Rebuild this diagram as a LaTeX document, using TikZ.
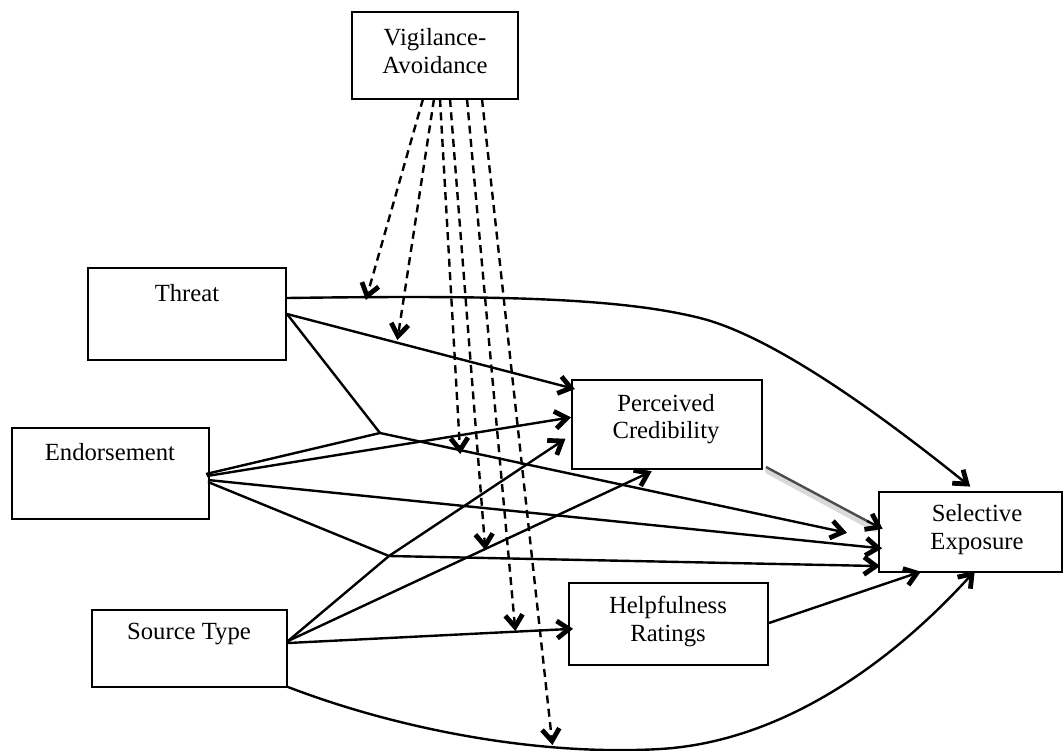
\documentclass[tikz,border=0pt]{standalone}
\usepackage{fontspec}
\setmainfont{Liberation Serif}
\usetikzlibrary{arrows.meta,decorations.markings}
\begin{document}
\begin{tikzpicture}[x=0.75pt,y=-0.75pt,
  box/.style={draw, line width=1.4pt, inner sep=0pt},
  lbl/.style={font=\fontsize{18.5}{20.5}\selectfont, align=center, inner sep=0pt},
  con/.style={line width=1.8pt},
  chev/.style={postaction={decorate, decoration={markings, mark=at position 1 with {\draw[solid, line width=3.6pt, line join=miter, line cap=butt] (-9pt,-6.5pt) -- (0pt,0pt) -- (-9pt,6.5pt);}}}},
  arr/.style={con, chev},
  darr/.style={line width=1.8pt, dash pattern=on 6pt off 4pt, chev}]
\useasboundingbox (0,0) rectangle (1064,750);
% boxes
\node[box, minimum width=124.5pt, minimum height=65.25pt] (V) at (435,55.5) {};
\node[box, minimum width=148.5pt, minimum height=69pt] (T) at (187,314) {};
\node[box, minimum width=147.75pt, minimum height=68.25pt] (E) at (110.5,473.5) {};
\node[box, minimum width=146.25pt, minimum height=57.75pt] (S) at (189.5,648.5) {};
\node[box, minimum width=142.5pt, minimum height=66.75pt] (PC) at (667,424.5) {};
\node[box, minimum width=149.25pt, minimum height=61.5pt] (H) at (668.5,624) {};
\node[box, minimum width=137.25pt, minimum height=60pt] (SE) at (970.5,532) {};
% labels
\node[lbl] (Vt) at (435,51) {Vigilance-\\Avoidance};
\node[lbl] (Tt) at (187,293) {Threat};
\node[lbl] (Et) at (110,452) {Endorsement};
\node[lbl] (St) at (189,634) {Source Type};
\node[lbl] (PCt) at (666,419) {Perceived\\Credibility};
\node[lbl] (Ht) at (668,621.5) {Helpfulness\\Ratings};
\node[lbl] (SEt) at (977,529.5) {Selective\\Exposure};
% connection points
\coordinate (t1) at (287,298);
\coordinate (t2) at (287,314);
\coordinate (e1) at (206,474);
\coordinate (e2) at (207,476);
\coordinate (e3) at (208,480);
\coordinate (e4) at (208,482);
\coordinate (s1) at (288,641);
\coordinate (s2) at (288,643);
\coordinate (s3) at (288,687);
\coordinate (I1) at (380,433);
\coordinate (I2) at (389,556);
\coordinate (pcT) at (571,388);
\coordinate (pcE) at (567,418);
\coordinate (pcI) at (562,441);
\coordinate (pcS) at (648,473);
\coordinate (pcO) at (766,467);
\coordinate (hS) at (569,629);
\coordinate (hO) at (769,623);
\coordinate (seT) at (967,484);
\coordinate (seI1) at (843,532);
\coordinate (sePC) at (879,527);
\coordinate (seE) at (878,548);
\coordinate (seI2) at (876,566);
\coordinate (seH) at (917,573);
\coordinate (seS) at (972,574);
\coordinate (mT) at (700,318);
\coordinate (mS) at (660,749);
% Threat
\draw[arr] (t1) .. controls (500,295) and (620,298) .. (mT) .. controls (780,338) and (900,430) .. (seT);
\draw[arr] (t2) -- (pcT);
\draw[con] (t2) -- (I1);
% Endorsement
\draw[con] (e1) -- (I1);
\draw[arr] (e2) -- (pcE);
\draw[arr] (e3) -- (seE);
\draw[con] (e4) -- (I2);
% interactions
\draw[arr] (I1) -- (seI1);
\draw[arr] (I2) -- (pcI);
\draw[arr] (I2) -- (seI2);
% Source type
\draw[con] (s1) -- (I2);
\draw[arr] (s1) -- (pcS);
\draw[arr] (s2) -- (hS);
\draw[arr] (s3) .. controls (400,730) and (540,756) .. (mS) .. controls (780,742) and (890,665) .. (seS);
% mediators
\draw[black!15, line width=4.5pt, line cap=round] ([shift={(2,4)}]pcO) -- ([shift={(-4,2)}]sePC);
\draw[black!70, line width=1.8pt] (pcO) -- ([shift={(-10,-5)}]sePC);
\draw[arr] ([shift={(-12,-6)}]sePC) -- (sePC);
\draw[arr] (hO) -- (seH);
% vigilance dashed
\coordinate (v1) at (423,99);
\coordinate (v2) at (434,99);
\coordinate (v3) at (440,99);
\coordinate (v4) at (450,99);
\coordinate (v5) at (467,99);
\coordinate (v6) at (482,99);
\coordinate (d1) at (367,296);
\coordinate (d2) at (398,336);
\coordinate (d3) at (460,450);
\coordinate (d4) at (485,546);
\coordinate (d5) at (515,627);
\coordinate (d6) at (552,741);
\draw[darr] (v1) -- (d1);
\draw[darr] (v2) -- (d2);
\draw[darr] (v3) -- (d3);
\draw[darr] (v4) -- (d4);
\draw[darr] (v5) -- (d5);
\draw[darr] (v6) -- (d6);
\end{tikzpicture}
\end{document}
